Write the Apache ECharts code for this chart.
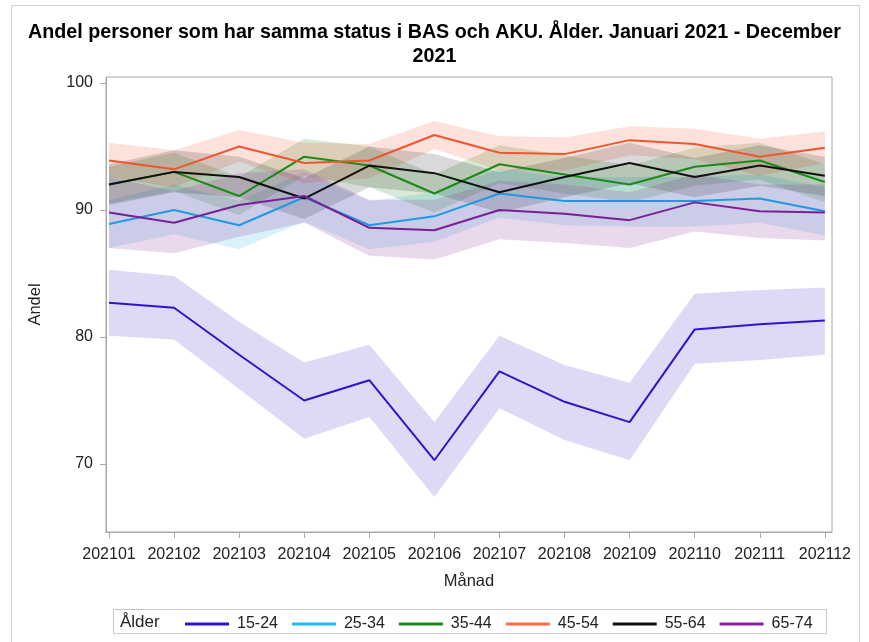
<!DOCTYPE html>
<html>
<head>
<meta charset="utf-8">
<script src="https://cdn.jsdelivr.net/npm/echarts@6/dist/echarts.min.js"></script>
<style>
html,body{margin:0;padding:0;background:#fff;}
#chart{width:869px;height:642px;}
</style>
</head>
<body>
<div id="chart"></div>
<script>
// ---- Data ----
const months = ['202101','202102','202103','202104','202105','202106','202107','202108','202109','202110','202111','202112'];
const groups = ['15-24','25-34','35-44','45-54','55-64','65-74'];
const yTicks = [70, 80, 90, 100];

const v1524 = [82.7, 82.3, 78.6, 75.0, 76.6, 70.3, 77.3, 74.9, 73.3, 80.6, 81.0, 81.3];
const lo1524 = [80.1, 79.8, 75.9, 72.0, 73.7, 67.4, 74.4, 71.9, 70.3, 77.9, 78.2, 78.6];
const hi1524 = [85.3, 84.8, 81.2, 78.0, 79.4, 73.3, 80.1, 77.8, 76.4, 83.4, 83.7, 83.9];

const v2534 = [88.9, 90.0, 88.8, 91.0, 88.8, 89.5, 91.3, 90.7, 90.7, 90.7, 90.9, 89.9];
const lo2534 = [87.0, 88.1, 86.9, 89.1, 86.9, 87.5, 89.4, 88.8, 88.7, 88.7, 89.0, 88.0];
const hi2534 = [90.8, 92.0, 90.7, 93.0, 90.7, 91.4, 93.2, 92.6, 92.6, 92.6, 92.8, 91.8];

const v3544 = [92.0, 93.0, 91.1, 94.2, 93.5, 91.3, 93.6, 92.8, 92.0, 93.4, 93.9, 92.2];
const lo3544 = [90.5, 91.5, 89.6, 92.7, 91.8, 89.8, 92.1, 91.3, 90.6, 91.9, 92.4, 90.6];
const hi3544 = [93.4, 94.5, 92.6, 95.6, 95.0, 92.8, 95.1, 94.3, 93.5, 94.9, 95.3, 93.6];

const v4554 = [93.9, 93.2, 95.0, 93.7, 93.9, 95.9, 94.5, 94.4, 95.5, 95.2, 94.2, 94.9];
const lo4554 = [92.6, 91.8, 93.8, 92.1, 92.5, 94.8, 93.1, 93.1, 94.3, 94.0, 92.7, 93.7];
const hi4554 = [95.3, 94.7, 96.3, 95.3, 95.2, 97.0, 95.8, 95.7, 96.6, 96.4, 95.6, 96.2];

const v5564 = [92.0, 93.0, 92.6, 90.9, 93.5, 92.9, 91.4, 92.6, 93.7, 92.6, 93.5, 92.7];
const lo5564 = [90.4, 91.4, 91.0, 89.3, 91.8, 91.3, 89.8, 91.0, 92.1, 91.0, 91.9, 91.1];
const hi5564 = [93.6, 94.7, 94.2, 92.5, 95.0, 94.4, 93.0, 94.1, 95.3, 94.1, 95.1, 94.2];

const v6574 = [89.8, 89.0, 90.4, 91.1, 88.6, 88.4, 90.0, 89.7, 89.2, 90.6, 89.9, 89.8];
const lo6574 = [87.0, 86.6, 87.9, 89.0, 86.4, 86.1, 87.7, 87.4, 87.0, 88.3, 87.8, 87.6];
const hi6574 = [92.6, 91.5, 92.9, 93.2, 90.8, 90.8, 92.3, 92.0, 91.4, 92.8, 92.0, 92.0];

// ---- Styling ----
const lineColors = ['#3412CC', '#1E9BE0', '#1A8A1A', '#EE5630', '#111111', '#7A1F96'];
const legendColors = ['#3412CC', '#22BBEE', '#1A8A1A', '#FF6A4A', '#111111', '#8A1FA0'];
const bandColors = ['rgba(70,50,200,0.18)', 'rgba(40,175,235,0.18)', 'rgba(30,140,30,0.18)',
                    'rgba(245,90,55,0.18)', 'rgba(20,20,20,0.16)', 'rgba(140,40,150,0.18)'];
const values = [v1524, v2534, v3544, v4554, v5564, v6574];
const lows = [lo1524, lo2534, lo3544, lo4554, lo5564, lo6574];
const highs = [hi1524, hi2534, hi3544, hi4554, hi5564, hi6574];

function bandSeries(idx) {
  const lo = lows[idx], hi = highs[idx];
  return {
    type: 'custom',
    name: groups[idx] + ' band',
    silent: true,
    z: 1,
    data: months.map((m, i) => [i, lo[i], hi[i]]),
    encode: { x: 0, y: [1, 2] },
    renderItem: function (params, api) {
      if (params.dataIndex !== 0) return null;
      const pts = [];
      for (let i = 0; i < hi.length; i++) pts.push(api.coord([i, hi[i]]));
      for (let i = lo.length - 1; i >= 0; i--) pts.push(api.coord([i, lo[i]]));
      return { type: 'polygon', shape: { points: pts }, style: { fill: bandColors[idx] } };
    }
  };
}

function lineSeries(idx) {
  return {
    type: 'line',
    name: groups[idx],
    z: 5,
    symbol: 'none',
    itemStyle: { color: legendColors[idx] },
    lineStyle: { width: 2, color: lineColors[idx] },
    data: values[idx].map((v, i) => [i, v])
  };
}

const series = [];
for (let i = 0; i < groups.length; i++) series.push(bandSeries(i));
for (let i = 0; i < groups.length; i++) series.push(lineSeries(i));

const FONT = '"Liberation Sans", Arial, sans-serif';
const axisGray = '#a8a8a8';

const chart = echarts.init(document.getElementById('chart'), null, { renderer: 'canvas' });
chart.setOption({
  animation: false,
  backgroundColor: '#fff',
  textStyle: { fontFamily: FONT },
  title: {
    text: 'Andel personer som har samma status i BAS och AKU. Ålder. Januari 2021 - December\n2021',
    left: 'center',
    top: 16,
    textStyle: { fontFamily: FONT, fontSize: 19.7, fontWeight: 'bold', color: '#000', lineHeight: 24 }
  },
  grid: {
    left: 106, right: 37, top: 77, bottom: 110,
    show: true, borderColor: axisGray, borderWidth: 1, containLabel: false
  },
  legend: {
    data: groups.map((g, i) => ({ name: g, itemStyle: { color: legendColors[i] } })),
    left: 180, top: 611,
    itemWidth: 44, itemHeight: 3, itemGap: 14,
    icon: 'rect',
    textStyle: { fontFamily: FONT, fontSize: 16, color: '#222', padding: [0, 0, 0, 3] }
  },
  xAxis: {
    type: 'value',
    min: -0.046, max: 11.11,
    name: 'Månad',
    nameLocation: 'middle',
    nameGap: 41,
    nameTextStyle: { fontFamily: FONT, fontSize: 16.5, color: '#222' },
    axisLine: { show: true, onZero: false, lineStyle: { color: axisGray } },
    axisTick: { show: true, length: 6, lineStyle: { color: axisGray }, customValues: months.map((m, i) => i) },
    axisLabel: {
      customValues: months.map((m, i) => i),
      formatter: v => months[Math.round(v)],
      fontFamily: FONT, fontSize: 16, color: '#222', margin: 15
    },
    splitLine: { show: false }
  },
  yAxis: {
    type: 'value',
    min: 64.65, max: 100.47,
    name: 'Andel',
    nameLocation: 'middle',
    nameGap: 62,
    nameRotate: 90,
    nameTextStyle: { fontFamily: FONT, fontSize: 16.5, color: '#222' },
    axisLine: { show: true, onZero: false, lineStyle: { color: axisGray } },
    axisTick: { show: true, length: 6, lineStyle: { color: axisGray }, customValues: yTicks },
    axisLabel: { customValues: yTicks, fontFamily: FONT, fontSize: 16, color: '#222', margin: 13 },
    splitLine: { show: false }
  },
  graphic: [
    { type: 'rect', shape: { x: 11.5, y: 5.5, width: 848, height: 700 }, style: { fill: 'none', stroke: '#d0d0d0', lineWidth: 1 }, silent: true },
    { type: 'rect', shape: { x: 113.5, y: 609.5, width: 713, height: 24 }, style: { fill: 'none', stroke: '#c8c8c8', lineWidth: 1 }, silent: true },
    { type: 'text', x: 120, y: 622, style: { text: 'Ålder', fontFamily: FONT, fontSize: 17, fill: '#222', verticalAlign: 'middle' }, silent: true }
  ],
  series: series
});
</script>
</body>
</html>
